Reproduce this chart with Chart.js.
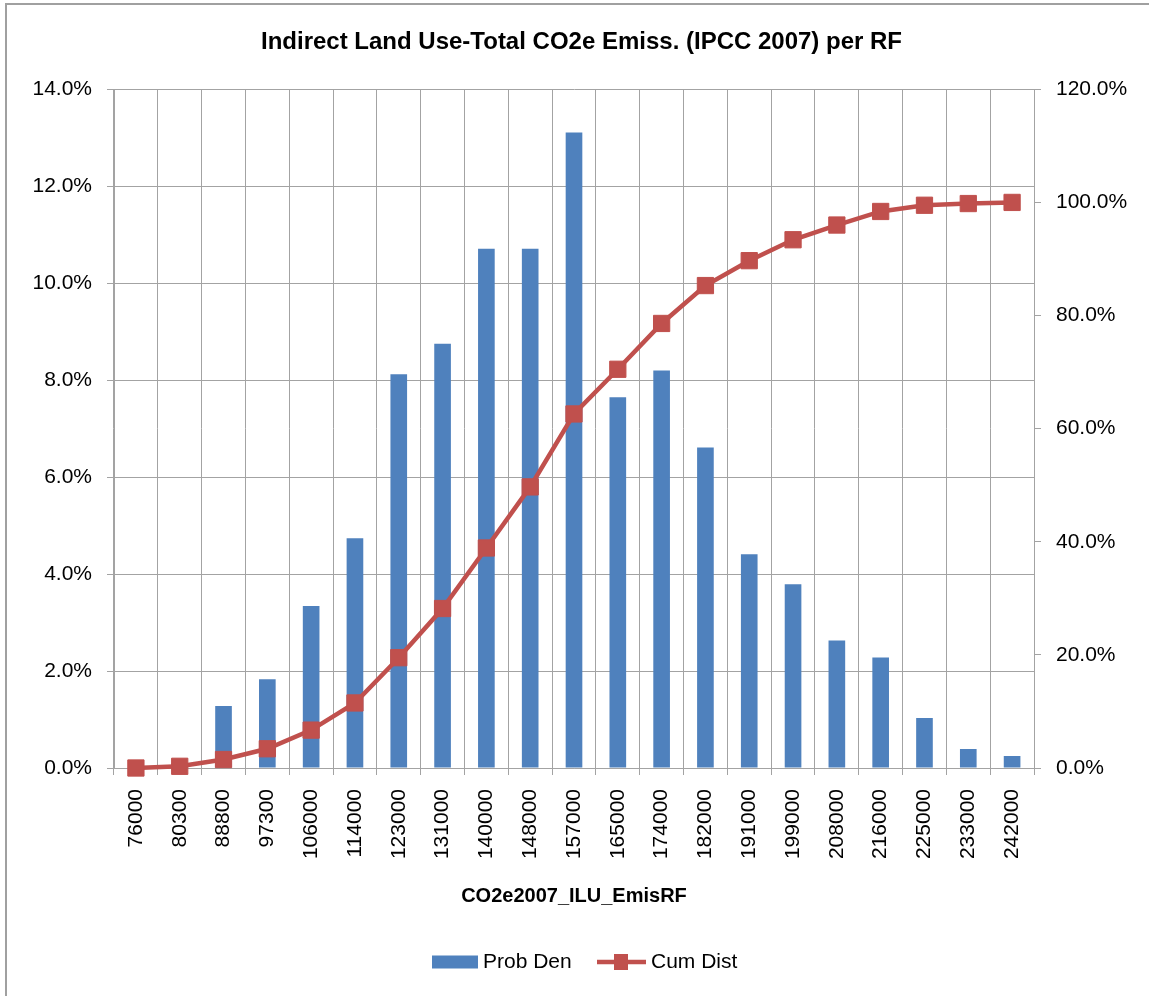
<!DOCTYPE html>
<html>
<head>
<meta charset="utf-8">
<title>Indirect Land Use-Total CO2e Emiss. (IPCC 2007) per RF</title>
<script src="https://cdn.jsdelivr.net/npm/chart.js@4/dist/chart.umd.min.js"></script>
<style>
  html, body { margin: 0; padding: 0; background: #fff; }
  #wrap { position: relative; width: 1149px; height: 996px; }
  #frame {
    position: absolute; left: 5px; top: 3px; right: 0; bottom: 0;
    border-left: 2px solid #a0a0a0; border-top: 2px solid #a0a0a0;
    pointer-events: none;
  }
  canvas { position: absolute; left: 0; top: 0; }
</style>
</head>
<body>
<div id="wrap">
  <canvas id="chart" width="1149" height="996"></canvas>
  <div id="frame"></div>
</div>
<script>
// Emission bins (RF) and their distribution values, in percent
const binLabels = ['76000', '80300', '88800', '97300', '106000', '114000', '123000', '131000',
  '140000', '148000', '157000', '165000', '174000', '182000', '191000', '199000',
  '208000', '216000', '225000', '233000', '242000'];
const probDen = [0.0, 0.1, 1.28, 1.83, 3.34, 4.74, 8.12, 8.75, 10.71, 10.71, 13.11,
  7.65, 8.20, 6.61, 4.41, 3.79, 2.63, 2.28, 1.03, 0.39, 0.25];
const cumDist = [0.0, 0.3, 1.5, 3.4, 6.7, 11.5, 19.5, 28.2, 38.9, 49.7, 62.6,
  70.5, 78.6, 85.3, 89.7, 93.4, 96.0, 98.4, 99.5, 99.8, 100.0];
const leftTicks = { min: 0, max: 14, step: 2 };
const rightTicks = { min: 0, max: 120, step: 20 };

const FONT = '"Liberation Sans", Arial, sans-serif';
const BLUE = '#4F81BD';
const RED = '#C0504D';
const GRID = '#a3a3a3';
const pct = v => Number(v).toFixed(1) + '%';

// Legend drawn beneath the axis title: bar swatch and line-with-marker swatch
const legendPlugin = {
  id: 'bottomLegend',
  afterDraw(chart) {
    const ctx = chart.ctx;
    const cy = 962;
    ctx.save();
    ctx.font = '21px ' + FONT;
    ctx.fillStyle = '#000';
    ctx.textBaseline = 'middle';
    ctx.textAlign = 'left';
    // Prob Den
    ctx.fillStyle = BLUE;
    ctx.fillRect(432, cy - 6.5, 46, 13);
    ctx.fillStyle = '#000';
    ctx.fillText(chart.data.datasets[0].label, 483, cy);
    // Cum Dist
    ctx.strokeStyle = RED;
    ctx.lineWidth = 4.5;
    ctx.beginPath();
    ctx.moveTo(597, cy);
    ctx.lineTo(646, cy);
    ctx.stroke();
    ctx.fillStyle = RED;
    ctx.fillRect(614, cy - 8, 14, 16);
    ctx.fillStyle = '#000';
    ctx.fillText(chart.data.datasets[1].label, 651, cy);
    ctx.restore();
  }
};

new Chart(document.getElementById('chart'), {
  data: {
    labels: binLabels,
    datasets: [
      {
        type: 'bar',
        label: 'Prob Den',
        data: probDen,
        yAxisID: 'yL',
        backgroundColor: BLUE,
        borderWidth: 0,
        categoryPercentage: 1.0,
        barPercentage: 0.38,
        order: 1
      },
      {
        type: 'line',
        label: 'Cum Dist',
        data: cumDist,
        yAxisID: 'yR',
        borderColor: RED,
        borderWidth: 4.5,
        backgroundColor: RED,
        pointStyle: 'rect',
        pointRadius: 11.5,
        pointBorderWidth: 1,
        pointBorderColor: RED,
        pointBackgroundColor: RED,
        pointHoverRadius: 11.5,
        tension: 0,
        fill: false,
        clip: false,
        order: 0
      }
    ]
  },
  options: {
    responsive: false,
    animation: false,
    events: [],
    layout: { padding: { left: 14, right: 0, top: 0, bottom: 0 } },
    plugins: {
      legend: { display: false },
      tooltip: { enabled: false },
      title: {
        display: true,
        text: 'Indirect Land Use-Total CO2e Emiss. (IPCC 2007) per RF',
        color: '#000',
        font: { family: FONT, size: 24, weight: 'bold', lineHeight: 1.2 },
        padding: { top: 27.6, bottom: 32.9 }
      }
    },
    scales: {
      x: {
        type: 'category',
        offset: true,
        grid: { offset: true, color: GRID, lineWidth: 1, tickLength: 7, drawTicks: true },
        border: { color: GRID, width: 1 },
        ticks: {
          autoSkip: false,
          minRotation: 90,
          maxRotation: 90,
          padding: 14,
          color: '#000',
          font: { family: FONT, size: 21 }
        },
        title: {
          display: true,
          text: 'CO2e2007_ILU_EmisRF',
          color: '#000',
          font: { family: FONT, size: 20, weight: 'bold', lineHeight: 1.2 },
          padding: { top: 0, bottom: 88 }
        },
        afterFit(scale) { scale.height = 228; }
      },
      yL: {
        type: 'linear',
        position: 'left',
        min: leftTicks.min,
        max: leftTicks.max,
        grid: { color: GRID, lineWidth: 1, tickLength: 7, drawTicks: true },
        border: { color: GRID, width: 1 },
        ticks: {
          stepSize: leftTicks.step,
          padding: 15,
          color: '#000',
          font: { family: FONT, size: 21 },
          callback: v => pct(v)
        },
        afterFit(scale) { scale.width = 100; }
      },
      yR: {
        type: 'linear',
        position: 'right',
        min: rightTicks.min,
        max: rightTicks.max,
        grid: { drawOnChartArea: false, color: GRID, lineWidth: 1, tickLength: 7, drawTicks: true },
        border: { color: GRID, width: 1 },
        ticks: {
          stepSize: rightTicks.step,
          padding: 15,
          color: '#000',
          font: { family: FONT, size: 21 },
          callback: v => pct(v)
        },
        afterFit(scale) { scale.width = 115; }
      }
    }
  },
  plugins: [legendPlugin]
});
</script>
</body>
</html>
